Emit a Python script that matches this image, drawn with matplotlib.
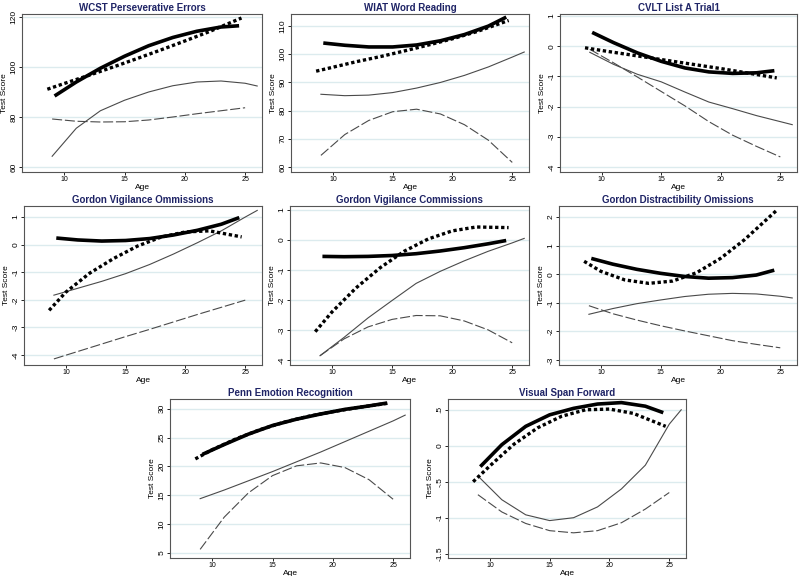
import matplotlib
matplotlib.use("Agg")
import matplotlib.pyplot as plt

plt.rcParams["font.family"] = ["Liberation Sans", "DejaVu Sans"]

# ---------------- data ----------------
TITLES = ["WCST Perseverative Errors", "WIAT Word Reading", "CVLT List A Trial1",
          "Gordon Vigilance Ommissions", "Gordon Vigilance Commissions",
          "Gordon Distractibility Omissions", "Penn Emotion Recognition",
          "Visual Span Forward"]

AGE_THICK = [9.2, 11, 13, 15, 17, 19, 21, 23, 24.5]
AGE_DOT = [8.6, 10, 12, 14, 16, 18, 20, 22, 24.7]
AGE_SOLID = [9, 11, 13, 15, 17, 19, 21, 23, 25, 26]
AGE_DASH = [9, 11, 13, 15, 17, 19, 21, 23, 25]

wcst_thick = [88.4, 94, 99.5, 104.3, 108.5, 111.8, 114.3, 116, 116.5]
wcst_dot = [91.1, 93.4, 96.6, 99.9, 103.3, 106.8, 110.4, 114.1, 119.6]
wcst_solid = [64.3, 75.5, 82.5, 86.7, 90, 92.5, 94, 94.4, 93.5, 92.4]
wcst_dash = [79.2, 78.3, 78, 78.1, 78.8, 80, 81.3, 82.5, 83.7]

wiat_thick = [104, 103.2, 102.6, 102.6, 103.3, 104.8, 107, 110, 113.2]
wiat_dot = [94, 95.4, 97.4, 99.2, 101.2, 103.3, 105.5, 108, 112]
wiat_solid = [85.8, 85.3, 85.5, 86.4, 88, 90, 92.5, 95.5, 99, 100.8]
wiat_dash = [64.1, 71.5, 76.5, 79.6, 80.5, 78.8, 75, 69.5, 61.6]

cvlt_thick = [0.46, 0.12, -0.22, -0.5, -0.72, -0.85, -0.9, -0.88, -0.81]
cvlt_dot = [-0.05, -0.14, -0.26, -0.38, -0.5, -0.62, -0.74, -0.87, -1.05]
cvlt_solid = [-0.2, -0.6, -0.93, -1.18, -1.52, -1.85, -2.07, -2.3, -2.5, -2.6]
cvlt_dash = [-0.1, -0.55, -1.02, -1.5, -1.98, -2.5, -2.95, -3.32, -3.67]

vigom_thick = [0.24, 0.17, 0.13, 0.15, 0.22, 0.35, 0.52, 0.74, 0.98]
vigom_dot = [-2.38, -1.72, -1.03, -0.5, -0.05, 0.28, 0.46, 0.5, 0.28]
vigom_solid = [-1.83, -1.58, -1.33, -1.05, -0.72, -0.34, 0.07, 0.5, 1.0, 1.24]
vigom_dash = [-4.14, -3.87, -3.6, -3.33, -3.07, -2.8, -2.53, -2.27, -2.01]

vigcom_thick = [-0.55, -0.56, -0.55, -0.52, -0.46, -0.37, -0.26, -0.13, -0.02]
vigcom_dot = [-3.06, -2.4, -1.6, -0.93, -0.38, 0.03, 0.3, 0.43, 0.41]
vigcom_solid = [-3.86, -3.25, -2.6, -2.02, -1.45, -1.05, -0.7, -0.38, -0.1, 0.05]
vigcom_dash = [-3.86, -3.3, -2.9, -2.65, -2.52, -2.53, -2.7, -3.0, -3.43]

dist_thick = [0.55, 0.35, 0.17, 0.03, -0.08, -0.14, -0.12, -0.03, 0.14]
dist_dot = [0.45, 0.1, -0.2, -0.32, -0.24, 0.05, 0.55, 1.2, 2.23]
dist_solid = [-1.4, -1.2, -1.03, -0.9, -0.78, -0.7, -0.67, -0.69, -0.77, -0.83]
dist_dash = [-1.1, -1.38, -1.6, -1.8, -1.98, -2.15, -2.32, -2.45, -2.57]

penn_thick = [22.1, 23.8, 25.6, 27.1, 28.2, 29.1, 29.9, 30.5, 31.0]
penn_dot = [21.3, 22.9, 24.8, 26.4, 27.7, 28.7, 29.5, 30.2, 31.0]
penn_solid = [14.4, 15.9, 17.5, 19.1, 20.8, 22.5, 24.3, 26.1, 27.9, 28.9]
penn_dash = [5.6, 11.2, 15.4, 18.4, 20.1, 20.6, 19.8, 17.7, 14.3]

vis_thick = [-0.29, 0.015, 0.27, 0.43, 0.52, 0.58, 0.6, 0.55, 0.46]
vis_dot = [-0.5, -0.28, 0.02, 0.25, 0.41, 0.5, 0.51, 0.45, 0.27]
vis_solid = [-0.42, -0.75, -0.96, -1.04, -1.0, -0.85, -0.6, -0.27, 0.3, 0.5]
vis_dash = [-0.68, -0.92, -1.08, -1.18, -1.21, -1.18, -1.07, -0.88, -0.65]

X_TICKS = [10, 15, 20, 25]
Y_TICKS = [
    [60, 80, 100, 120],
    [60, 70, 80, 90, 100, 110],
    [-4, -3, -2, -1, 0, 1],
    [-4, -3, -2, -1, 0, 1],
    [-4, -3, -2, -1, 0, 1],
    [-3, -2, -1, 0, 1, 2],
    [5, 10, 15, 20, 25, 30],
    [-1.5, -1, -0.5, 0, 0.5],
]
Y_TICKLABELS = [
    ["60", "80", "100", "120"],
    ["60", "70", "80", "90", "100", "110"],
    ["-4", "-3", "-2", "-1", "0", "1"],
    ["-4", "-3", "-2", "-1", "0", "1"],
    ["-4", "-3", "-2", "-1", "0", "1"],
    ["-3", "-2", "-1", "0", "1", "2"],
    ["5", "10", "15", "20", "25", "30"],
    ["-1.5", "-1", "-.5", "0", ".5"],
]
Y_LIMS = [(58, 121.2), (58.2, 114.3), (-4.17, 1.07), (-4.36, 1.4),
          (-4.17, 1.13), (-3.17, 2.38), (4.1, 31.7), (-1.56, 0.65)]

SERIES = [
    (wcst_thick, wcst_dot, wcst_solid, wcst_dash),
    (wiat_thick, wiat_dot, wiat_solid, wiat_dash),
    (cvlt_thick, cvlt_dot, cvlt_solid, cvlt_dash),
    (vigom_thick, vigom_dot, vigom_solid, vigom_dash),
    (vigcom_thick, vigcom_dot, vigcom_solid, vigcom_dash),
    (dist_thick, dist_dot, dist_solid, dist_dash),
    (penn_thick, penn_dot, penn_solid, penn_dash),
    (vis_thick, vis_dot, vis_solid, vis_dash),
]

# ---------------- layout (pixel boxes: left, top, right, bottom) ----------------
W, H = 800, 576
BOXES = [
    (22, 14, 262, 172), (291, 14, 529, 172), (560, 14, 797, 172),
    (24, 206, 262, 365), (290, 206, 529, 365), (559, 206, 797, 365),
    (170, 399, 410, 558), (448, 399, 686, 558),
]

TITLE_COLOR = "#1f2466"
GRID_COLOR = "#dcebee"
LINE_GRAY = "#4a4a4a"

fig = plt.figure(figsize=(W / 100, H / 100), dpi=100)
fig.patch.set_facecolor("white")

for i, (l, t, r, b) in enumerate(BOXES):
    ax = fig.add_axes([l / W, 1 - b / H, (r - l) / W, (b - t) / H])
    thick, dot, solid, dash = SERIES[i]
    ax.plot(AGE_DASH, dash, color=LINE_GRAY, lw=0.8, linestyle=(0, (9, 2.5)), zorder=2)
    ax.plot(AGE_SOLID, solid, color=LINE_GRAY, lw=0.8, zorder=2)
    ax.plot(AGE_THICK, thick, color="black", lw=2.6, solid_capstyle="butt", zorder=3)
    ax.plot(AGE_DOT, dot, color="black", lw=2.4, linestyle=(0, (1, 0.8)), zorder=4)

    ax.set_xlim(6.5, 26.4)
    ax.set_ylim(*Y_LIMS[i])
    ax.set_xticks(X_TICKS)
    ax.set_xticklabels([str(v) for v in X_TICKS], fontsize=5)
    ax.set_yticks(Y_TICKS[i])
    ax.set_yticklabels(Y_TICKLABELS[i], fontsize=6, rotation=90, va="center")
    ax.tick_params(axis="both", length=2.2, width=0.6, pad=1, colors="black")
    for yv in Y_TICKS[i]:
        ax.axhline(yv, color=GRID_COLOR, lw=1.0, zorder=1)
    for s in ax.spines.values():
        s.set_color("#555555")
        s.set_linewidth(0.8)
    ax.set_title(TITLES[i], fontsize=7, fontweight="bold", color=TITLE_COLOR, pad=2.5)
    ax.set_xlabel("Age", fontsize=6, labelpad=0.5)
    ax.set_ylabel("Test Score", fontsize=6, labelpad=1.5)

fig.savefig("out.png", dpi=100)
